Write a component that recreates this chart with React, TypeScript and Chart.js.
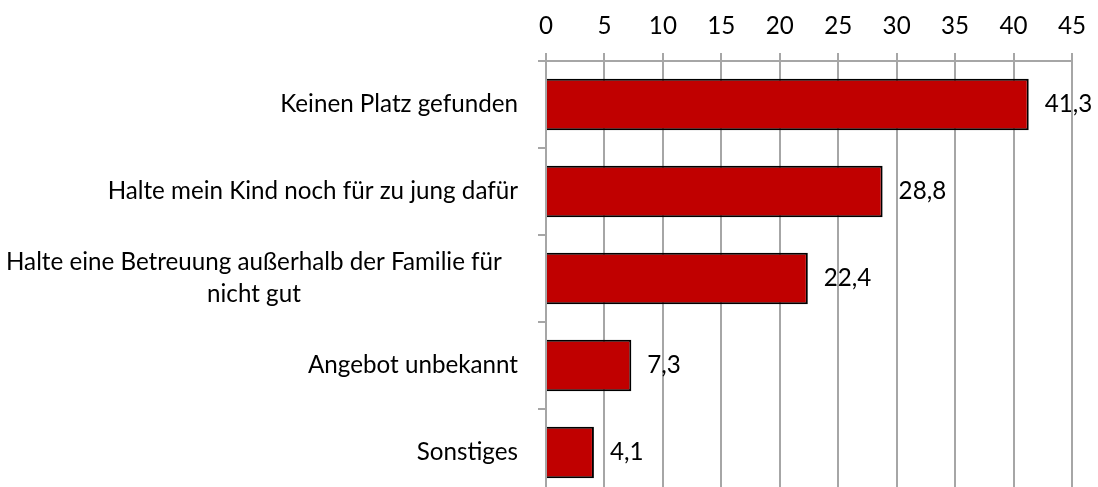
import React, { useEffect, useRef } from "react";
import { Chart, registerables } from "chart.js";

Chart.register(...registerables);

const categories: (string | string[])[] = [
  "Keinen Platz gefunden",
  "Halte mein Kind noch für zu jung dafür",
  ["Halte eine Betreuung außerhalb der Familie für", "nicht gut"],
  "Angebot unbekannt",
  "Sonstiges",
];
const values: number[] = [41.3, 28.8, 22.4, 7.3, 4.1];
const xMin = 0;
const xMax = 45;
const xStep = 5;

const FONT_FAMILY = "Lato, 'Noto Sans', sans-serif";
const FONT_SIZE = 24.2;
const GRID = "#a6a6a6";

const labelsPlugin = {
  id: "customLabels",
  afterDatasetsDraw(chart: any) {
    const ctx = chart.ctx as CanvasRenderingContext2D;
    const yScale = chart.scales.y;
    const area = chart.chartArea;
    ctx.save();
    ctx.font = `${FONT_SIZE}px ${FONT_FAMILY}`;
    ctx.fillStyle = "#000";
    ctx.textBaseline = "middle";
    // category labels
    const rightEdge = area.left - 28;
    const lineH = 32;
    categories.forEach((cat, i) => {
      const yc = yScale.getPixelForValue(i);
      if (Array.isArray(cat)) {
        const maxW = Math.max(...cat.map((l) => ctx.measureText(l).width));
        const cx = Math.max(rightEdge - 36 - maxW / 2, 6 + maxW / 2);
        ctx.textAlign = "center";
        const start = yc - ((cat.length - 1) * lineH) / 2;
        cat.forEach((l, j) => ctx.fillText(l, cx, start + j * lineH));
      } else {
        ctx.textAlign = "right";
        ctx.fillText(cat, rightEdge, yc);
      }
    });
    // data labels
    const meta = chart.getDatasetMeta(0);
    ctx.textAlign = "left";
    meta.data.forEach((bar: any, i: number) => {
      const txt = values[i].toFixed(1).replace(".", ",");
      ctx.fillText(txt, bar.x + 16, bar.y);
    });
    ctx.restore();
  },
};

export default function App() {
  const ref = useRef<HTMLCanvasElement | null>(null);
  useEffect(() => {
    if (!ref.current) return;
    const chart = new Chart(ref.current, {
      type: "bar",
      data: {
        labels: categories as any,
        datasets: [
          {
            data: values,
            backgroundColor: "#C00000",
            borderColor: "#000000",
            borderWidth: 2,
            barPercentage: 0.59,
            categoryPercentage: 1,
          },
        ],
      },
      options: {
        indexAxis: "y",
        animation: false,
        responsive: true,
        maintainAspectRatio: false,
        layout: { padding: { left: 0, right: 22, top: 0, bottom: 0 } },
        plugins: {
          legend: { display: false },
          tooltip: { enabled: false },
          title: { display: false },
        },
        scales: {
          x: {
            position: "top",
            min: xMin,
            max: xMax,
            afterFit(scale: any) {
              scale.height = 61;
            },
            ticks: {
              stepSize: xStep,
              color: "#000",
              padding: 12,
              font: { family: FONT_FAMILY, size: FONT_SIZE },
            },
            grid: {
              color: GRID,
              lineWidth: 2,
              tickLength: 8,
              drawOnChartArea: true,
              drawTicks: true,
            },
            border: { color: GRID, width: 2 },
          },
          y: {
            afterFit(scale: any) {
              scale.width = 546;
            },
            ticks: { display: false },
            grid: {
              color: GRID,
              lineWidth: 2,
              tickLength: 8,
              drawOnChartArea: false,
              drawTicks: true,
              offset: true,
            },
            border: { color: GRID, width: 2 },
          },
        },
      },
      plugins: [labelsPlugin],
    });
    return () => chart.destroy();
  }, []);
  return (
    <div
      style={{
        position: "fixed",
        left: 0,
        top: 0,
        width: 1098,
        height: 487,
        overflow: "hidden",
        background: "#fff",
      }}
    >
      <div style={{ position: "relative", width: 1098, height: 496 }}>
        <canvas ref={ref} />
      </div>
    </div>
  );
}
